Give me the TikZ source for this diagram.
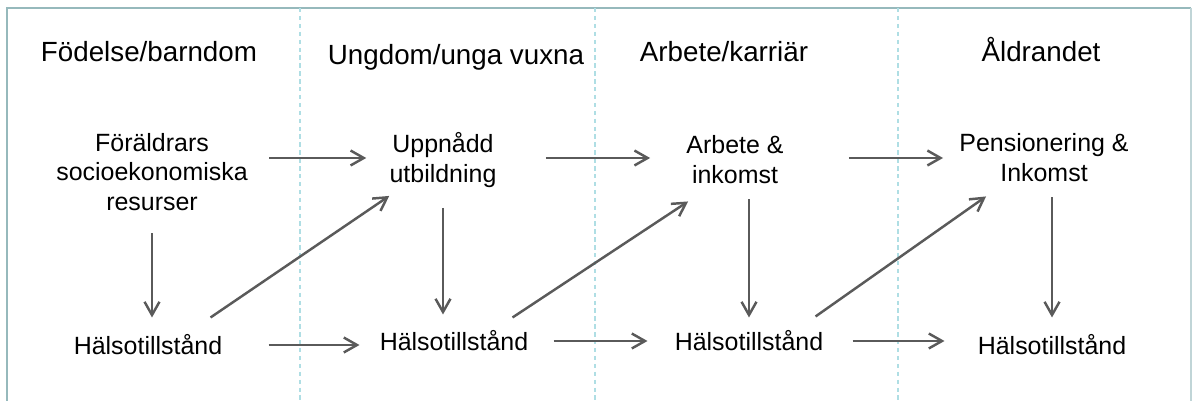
\documentclass[tikz,border=0pt]{standalone}
\usepackage{fontspec}
\setmainfont{Liberation Sans}
\usetikzlibrary{arrows.meta}
\definecolor{pilgra}{RGB}{90,90,90}
\definecolor{ramfarg}{RGB}{150,185,188}
\definecolor{delfarg}{RGB}{175,222,228}

\begin{document}
\begin{tikzpicture}[
    x=0.02cm, y=-0.02cm,
    rubrik/.style={
        font=\fontsize{15.8}{18}\selectfont,
        inner sep=0pt,
        anchor=base
    },
    ruta/.style={
        font=\fontsize{14.2}{17}\selectfont,
        inner sep=0pt,
        align=center
    },
    pil/.style={
        -{Straight Barb[length=7.5pt, width=8.5pt]},
        line width=1.4pt,
        draw=pilgra
    },
    delare/.style={
        draw=delfarg,
        line width=0.6pt,
        dash pattern=on 2.5pt off 2pt
    }
]

\useasboundingbox (0,0) rectangle (1192,401);

% =================================================
% RAM OCH KOLUMNER
% =================================================

\draw[ramfarg, line width=1.2pt] (7,401) -- (7,8) -- (1191,8);
\draw[ramfarg!60, line width=0.6pt] (1191,8) -- (1191,401);

\draw[delare] (300,8) -- (300,401);
\draw[delare] (595,8) -- (595,401);
\draw[delare] (898,8) -- (898,401);

% =================================================
% RUBRIKER
% =================================================

\node[rubrik] (r1) at (149,62) {Födelse/barndom};
\node[rubrik] (r2) at (456,65) {Ungdom/unga vuxna};
\node[rubrik] (r3) at (724,62) {Arbete/karriär};
\node[rubrik] (r4) at (1041,62) {Åldrandet};

% =================================================
% RESURSER
% =================================================

\node[ruta] (f1) at (152,172)
{Föräldrars\\socioekonomiska\\resurser};

\node[ruta] (u2) at (443,160)
{Uppnådd\\utbildning};

\node[ruta] (a3) at (735,160)
{Arbete \&\\inkomst};

\node[ruta] (p4) at (1044,158)
{Pensionering \&\\Inkomst};

% =================================================
% HÄLSA
% =================================================

\node[ruta] (h1) at (148,345) {Hälsotillstånd};
\node[ruta] (h2) at (454,341) {Hälsotillstånd};
\node[ruta] (h3) at (749,341) {Hälsotillstånd};
\node[ruta] (h4) at (1052,345) {Hälsotillstånd};

% =================================================
% PILAR
% =================================================

\draw[pil, shorten <=0.42cm, shorten >=0.46cm] (f1.east |- p4) -- (p4 -| u2.west);
\draw[pil, shorten <=0.98cm, shorten >=0.72cm] (u2.east |- p4) -- (p4 -| a3.west);
\draw[pil, shorten <=1.3cm, shorten >=0.32cm] (a3.east |- p4) -- (p4.west);

\draw[pil, shorten <=0.92cm, shorten >=0.4cm] (h1.east) -- (h1.east -| h2.west);
\draw[pil, shorten <=0.5cm, shorten >=0.54cm] (h2.east) -- (h3.west);
\draw[pil, shorten <=0.58cm, shorten >=0.66cm] (h3.east) -- (h3.east -| h4.west);

\draw[pil, shorten <=0.44cm, shorten >=0.34cm] (f1.south) -- (f1.south |- h1.north);
\draw[pil, shorten <=0.4cm, shorten >=0.32cm] (u2.south) -- (u2.south |- h2.north);
\draw[pil, shorten <=0.3cm, shorten >=0.26cm] (a3.south -| h3) -- (h3.north);
\draw[pil, shorten <=0.3cm, shorten >=0.34cm] (p4.south -| h4) -- (h4.north);

\draw[pil] ([shift={(-12,-17)}]h1.north east) -- ([shift={(0,8)}]u2.south west);
\draw[pil] ([shift={(-16,-13)}]h2.north east) -- ([shift={(2,17)}]a3.south west);
\draw[pil] ([shift={(-8,-14)}]h3.north east) -- ([shift={(27,14)}]p4.south west);

\end{tikzpicture}
\end{document}
